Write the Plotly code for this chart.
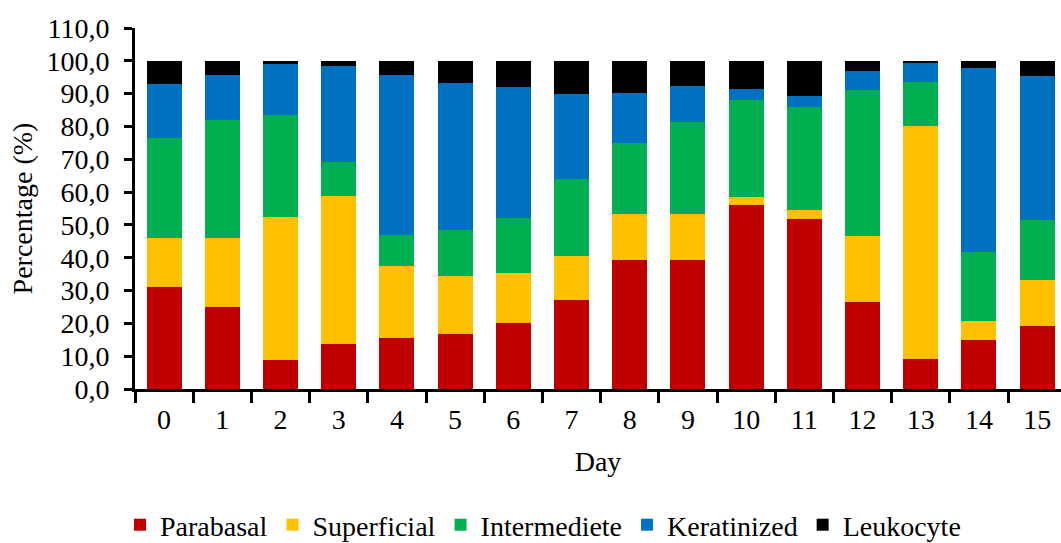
import plotly.graph_objects as go

days = [str(d) for d in range(16)]
parabasal = [31.1, 24.9, 8.9, 13.6, 15.4, 16.9, 20.2, 27.0, 39.3, 39.3, 56.1, 51.7, 26.6, 9.2, 15.0, 19.1]
superficial = [14.8, 21.0, 43.5, 45.1, 22.2, 17.4, 15.2, 13.4, 13.9, 13.9, 2.5, 2.9, 20.0, 70.9, 5.8, 14.1]
intermediete = [30.5, 36.0, 31.2, 10.4, 9.4, 14.3, 16.6, 23.6, 21.7, 28.3, 29.5, 31.4, 44.4, 13.4, 20.8, 18.4]
keratinized = [16.4, 13.7, 15.5, 29.3, 48.6, 44.6, 40.1, 25.8, 15.3, 10.9, 3.3, 3.4, 5.8, 5.9, 56.2, 43.7]
leukocyte = [7.2, 4.4, 0.9, 1.6, 4.4, 6.8, 7.9, 10.2, 9.8, 7.6, 8.6, 10.6, 3.2, 0.6, 2.2, 4.7]
y_ticks = list(range(0, 111, 10))

series = [
    ("Parabasal", parabasal, "#C00000"),
    ("Superficial", superficial, "#FFC000"),
    ("Intermediete", intermediete, "#00B050"),
    ("Keratinized", keratinized, "#0070C0"),
    ("Leukocyte", leukocyte, "#000000"),
]

FONT = "Liberation Serif"
FS = 28

fig = go.Figure()
for name, vals, color in series:
    fig.add_trace(go.Bar(x=days, y=vals, name=name, marker=dict(color=color, line=dict(width=0))))

fig.update_layout(
    barmode="stack",
    bargap=0.4,
    width=1061,
    height=543,
    margin=dict(l=135, r=0, t=28, b=154, autoexpand=False),
    plot_bgcolor="white",
    paper_bgcolor="white",
    separators=",.",
    font=dict(family=FONT, size=FS, color="black"),
    legend=dict(
        orientation="h",
        xref="container", yref="paper",
        x=543 / 1061, xanchor="center",
        y=(389 - 525) / 361, yanchor="middle",
        font=dict(family=FONT, size=FS),
        traceorder="normal",
    ),
    xaxis=dict(
        type="category",
        range=[-0.5, 15.41],
        tickson="boundaries",
        ticks="outside",
        ticklen=11,
        tickwidth=3,
        tickcolor="black",
        showline=True,
        linewidth=3,
        linecolor="black",
        showgrid=False,
        automargin=False,
        ticklabelstandoff=3,
        title=dict(text="Day", font=dict(family=FONT, size=FS), standoff=18),
        tickfont=dict(family=FONT, size=FS),
    ),
    yaxis=dict(
        range=[0, 110],
        tickvals=y_ticks,
        tickformat=".1f",
        ticks="outside",
        ticklen=8,
        tickwidth=3,
        tickcolor="black",
        showline=True,
        linewidth=3,
        linecolor="black",
        showgrid=False,
        zeroline=False,
        automargin=False,
        ticklabelstandoff=9,
        title=dict(text="Percentage (%)", font=dict(family=FONT, size=FS), standoff=6),
        tickfont=dict(family=FONT, size=FS),
    ),
)

fig.write_html(
    "out.html",
    config={"displayModeBar": False},
    post_script="document.body.style.margin='0';document.body.style.overflow='hidden';",
)
